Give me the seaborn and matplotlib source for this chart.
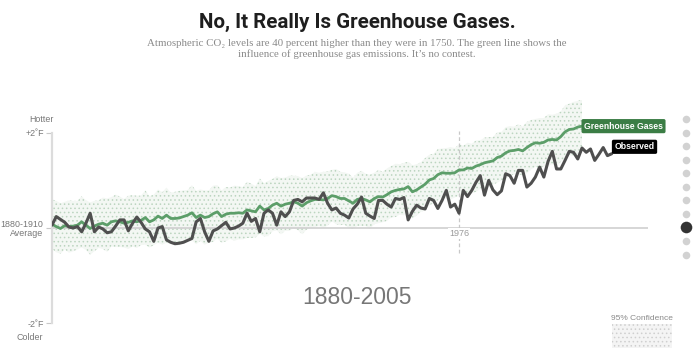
import numpy as np
import pandas as pd
import matplotlib
matplotlib.use("Agg")
import matplotlib.pyplot as plt
import seaborn as sns
from matplotlib.patches import Rectangle

# ---------------- data (°F, relative to 1880-1910 average) ----------------
obs_start = 1880
observed = [
    0.06, 0.24, 0.18, 0.12, 0.02, 0.00, 0.03, -0.08, 0.10, 0.31,
    -0.08, 0.02, -0.02, -0.10, -0.08, 0.04, 0.17, 0.17, -0.06, 0.10,
    0.23, 0.12, -0.02, -0.08, -0.28, 0.00, 0.03, -0.25, -0.30, -0.33,
    -0.32, -0.30, -0.26, -0.22, 0.13, 0.20, -0.08, -0.28, -0.06, -0.02,
    0.05, 0.12, -0.02, 0.00, 0.04, 0.10, 0.31, 0.14, 0.20, -0.08,
    0.31, 0.38, 0.31, 0.06, 0.34, 0.24, 0.34, 0.58, 0.60, 0.55,
    0.63, 0.63, 0.63, 0.60, 0.74, 0.52, 0.38, 0.42, 0.31, 0.27,
    0.21, 0.40, 0.50, 0.65, 0.31, 0.25, 0.20, 0.58, 0.58, 0.50,
    0.44, 0.62, 0.60, 0.64, 0.17, 0.35, 0.48, 0.42, 0.40, 0.62,
    0.58, 0.41, 0.58, 0.79, 0.44, 0.50, 0.31, 0.79, 0.66, 0.79,
    0.96, 1.10, 0.69, 1.00, 0.80, 0.70, 0.78, 1.14, 1.10, 0.94,
    1.21, 1.21, 0.86, 0.94, 1.07, 1.28, 1.07, 1.40, 1.61, 1.24,
    1.24, 1.42, 1.61, 1.59, 1.45, 1.68, 1.59, 1.66, 1.42, 1.55,
    1.69, 1.52, 1.56,
]
ghg_start = 1880
greenhouse = [
    0.08, 0.03, -0.01, 0.05, 0.03, 0.04, 0.06, 0.13, 0.06, -0.01,
    0.04, 0.08, 0.10, 0.06, 0.13, 0.15, 0.13, 0.10, 0.12, 0.15,
    0.13, 0.16, 0.22, 0.13, 0.17, 0.25, 0.20, 0.27, 0.20, 0.20,
    0.21, 0.24, 0.27, 0.32, 0.22, 0.27, 0.22, 0.24, 0.30, 0.34,
    0.24, 0.29, 0.31, 0.31, 0.32, 0.31, 0.38, 0.36, 0.34, 0.46,
    0.38, 0.41, 0.48, 0.52, 0.46, 0.50, 0.52, 0.55, 0.52, 0.46,
    0.53, 0.57, 0.60, 0.60, 0.59, 0.62, 0.68, 0.66, 0.62, 0.62,
    0.57, 0.52, 0.60, 0.62, 0.59, 0.55, 0.62, 0.66, 0.65, 0.70,
    0.76, 0.79, 0.81, 0.82, 0.87, 0.76, 0.80, 0.86, 0.92, 1.01,
    1.04, 1.12, 1.16, 1.15, 1.15, 1.16, 1.22, 1.22, 1.26, 1.25,
    1.30, 1.33, 1.37, 1.39, 1.41, 1.48, 1.51, 1.58, 1.62, 1.63,
    1.65, 1.62, 1.69, 1.75, 1.79, 1.78, 1.80, 1.85, 1.86, 1.85,
    1.92, 2.02, 2.07, 2.08, 2.12, 2.14,
]
ci_halfwidth = [
    0.52, 0.54, 0.53, 0.50, 0.55, 0.53, 0.51, 0.54, 0.52, 0.55,
    0.53, 0.50, 0.54, 0.56, 0.52, 0.55, 0.53, 0.51, 0.56, 0.54,
    0.55, 0.52, 0.57, 0.54, 0.53, 0.56, 0.55, 0.58, 0.54, 0.56,
    0.57, 0.55, 0.53, 0.58, 0.56, 0.54, 0.57, 0.55, 0.59, 0.56,
    0.55, 0.57, 0.54, 0.58, 0.56, 0.55, 0.59, 0.57, 0.54, 0.58,
    0.56, 0.58, 0.55, 0.57, 0.59, 0.56, 0.58, 0.55, 0.57, 0.59,
    0.57, 0.55, 0.58, 0.56, 0.59, 0.57, 0.54, 0.58, 0.56, 0.55,
    0.57, 0.54, 0.56, 0.58, 0.55, 0.57, 0.54, 0.56, 0.53, 0.55,
    0.54, 0.56, 0.53, 0.55, 0.52, 0.56, 0.54, 0.52, 0.55, 0.53,
    0.52, 0.54, 0.51, 0.53, 0.55, 0.52, 0.54, 0.51, 0.53, 0.52,
    0.54, 0.51, 0.53, 0.52, 0.50, 0.53, 0.51, 0.54, 0.52, 0.50,
    0.53, 0.51, 0.54, 0.52, 0.50, 0.53, 0.51, 0.54, 0.52, 0.55,
    0.53, 0.56, 0.54, 0.57, 0.55, 0.56,
]
marker_year = 1976
period_label = "1880-2005"
title = "No, It Really Is Greenhouse Gases."
subtitle_1 = "Atmospheric CO\u2082 levels are 40 percent higher than they were in 1750. The green line shows the"
subtitle_2 = "influence of greenhouse gas emissions. It\u2019s no contest."
ytick_values = [2, 0, -2]
ytick_labels = ["+2\u02daF", "1880-1910\nAverage", "-2\u02daF"]

obs_df = pd.DataFrame({"year": np.arange(obs_start, obs_start + len(observed)), "temp": observed})
ghg_df = pd.DataFrame({"year": np.arange(ghg_start, ghg_start + len(greenhouse)),
                       "temp": greenhouse, "hw": ci_halfwidth})
ghg_df["lo"] = ghg_df["temp"] - ghg_df["hw"]
ghg_df["hi"] = ghg_df["temp"] + ghg_df["hw"]

# ---------------- styling ----------------
sns.set_theme(style="white")
plt.rcParams["font.family"] = ["Liberation Sans", "DejaVu Sans"]
plt.rcParams["hatch.linewidth"] = 0.6

W, H = 700, 353
fig = plt.figure(figsize=(W / 100, H / 100), dpi=100)
fig.patch.set_facecolor("white")

PX_PER_YEAR = 4.24
PX_PER_DEG = 47.6
X0, Y0 = 52, 228          # pixel of (1880, 0)
ax_l, ax_r, ax_t, ax_b = 52, 648, 100, 345
ax = fig.add_axes([ax_l / W, 1 - ax_b / H, (ax_r - ax_l) / W, (ax_b - ax_t) / H])
ax.set_xlim(1880, 1880 + (ax_r - ax_l) / PX_PER_YEAR)
ax.set_ylim((Y0 - ax_b) / PX_PER_DEG, (Y0 - ax_t) / PX_PER_DEG)
ax.patch.set_alpha(0)

GREEN = "#5c9e69"
GREEN_DARK = "#3b7d45"
DARK = "#4f4f4f"
band_edge = "#bcd5c0"

# confidence band (dotted)
ax.fill_between(ghg_df["year"], ghg_df["lo"], ghg_df["hi"], facecolor="#f3f7f3",
                edgecolor=band_edge, hatch="....", linewidth=0, zorder=1)

# baseline and 1976 marker
ax.axhline(0, color="#cfcfcf", lw=1.2, zorder=2)
ax.vlines(marker_year, (Y0 - 253) / PX_PER_DEG, (Y0 - 131) / PX_PER_DEG,
          colors="#c8c8c8", lw=0.9, linestyles=(0, (3, 2)), zorder=2)
ax.text(marker_year, -0.02, str(marker_year), ha="center", va="top", fontsize=6.5,
        color="#9a9a9a", zorder=3,
        bbox=dict(boxstyle="square,pad=0.1", fc="white", ec="none"))

# lines
sns.lineplot(data=ghg_df, x="year", y="temp", ax=ax, color=GREEN, lw=2.0, zorder=4)
sns.lineplot(data=obs_df, x="year", y="temp", ax=ax, color=DARK, lw=2.2, zorder=5)

# end labels
ax.annotate("Greenhouse Gases", xy=(ghg_df["year"].iloc[-1], ghg_df["temp"].iloc[-1]),
            xytext=(1.5, 0), textcoords="offset points", ha="left", va="center",
            fontsize=6.2, fontweight="bold", color="white", zorder=6,
            bbox=dict(boxstyle="round,pad=0.3,rounding_size=0.2", fc=GREEN_DARK, ec="none"))
ax.annotate("Observed", xy=(obs_df["year"].iloc[-1], obs_df["temp"].iloc[-1]),
            xytext=(2, 5), textcoords="offset points", ha="left", va="center",
            fontsize=6.2, fontweight="bold", color="white", zorder=6,
            bbox=dict(boxstyle="round,pad=0.3,rounding_size=0.2", fc="black", ec="none"))

# axes styling
for s in ["top", "right", "bottom"]:
    ax.spines[s].set_visible(False)
ax.spines["left"].set_color("#dcdcdc")
ax.spines["left"].set_linewidth(1.6)
ax.spines["left"].set_bounds(-2, 2)
ax.set_xticks([])
ax.set_yticks(ytick_values)
ax.set_yticklabels(ytick_labels, fontsize=6.4, color="#777777", linespacing=0.95)
ax.tick_params(axis="y", length=4, width=0.8, color="#c8c8c8", pad=2, left=True)
ax.set_xlabel("")
ax.set_ylabel("")
ax.grid(False)

# ---------------- decorations in pixel coords ----------------
ov = fig.add_axes([0, 0, 1, 1], zorder=-1)
ov.set_xlim(0, W)
ov.set_ylim(H, 0)
ov.axis("off")

ov.text(357, 22, title, ha="center", va="center", fontsize=14.8, fontweight="bold",
        color="#1e1e1e", family=["Roboto", "DejaVu Sans"])
ov.text(357, 43, subtitle_1, ha="center", va="center", fontsize=7.8, color="#8a8a8a",
        family=["Liberation Serif", "DejaVu Serif"])
ov.text(357, 54, subtitle_2, ha="center", va="center", fontsize=7.8, color="#8a8a8a",
        family=["Liberation Serif", "DejaVu Serif"])

ov.text(54, 120, "Hotter", ha="right", va="center", fontsize=6.4, color="#777777")
ov.text(43, 337, "Colder", ha="right", va="center", fontsize=6.4, color="#777777")

ov.text(357, 298, period_label, ha="center", va="center", fontsize=16.5, color="#777777")

ov.text(642, 318, "95% Confidence", ha="center", va="center", fontsize=6, color="#8a8a8a")
ov.add_patch(Rectangle((612, 324), 60, 24, facecolor="#f4f4f4", edgecolor="#cfcfcf",
                       hatch="....", linewidth=0))

nav_y = [119, 133, 146, 160, 173, 187, 200, 214, 227, 241, 255]
for i, yy in enumerate(nav_y):
    if i == 8:
        ov.scatter([686], [yy], s=70, color="#333333", zorder=3, linewidths=0)
    else:
        ov.scatter([686], [yy], s=30, color="#d2d2d2", zorder=3, linewidths=0)

fig.savefig("out.png", dpi=100, facecolor="white")
